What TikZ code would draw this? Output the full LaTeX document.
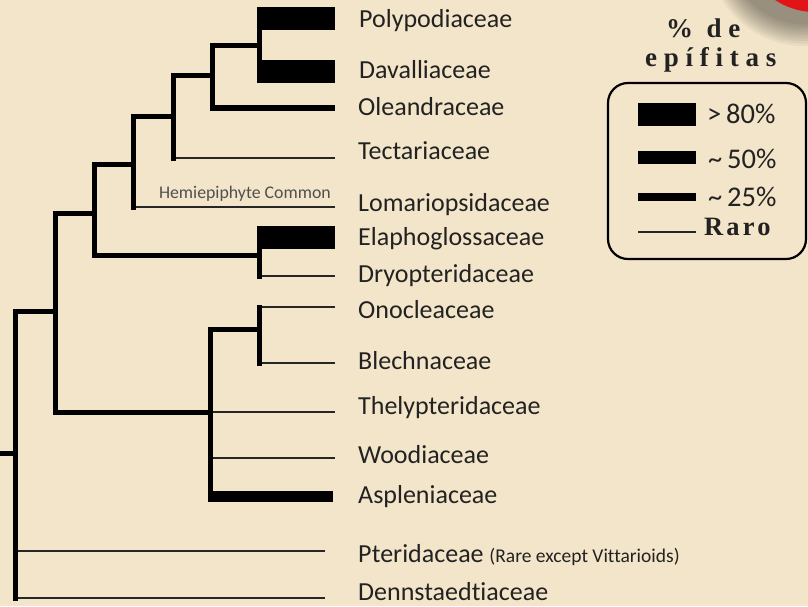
\documentclass[tikz,border=0pt]{standalone}
\usepackage{fontspec}
\setmainfont{Carlito}[Ligatures=NoCommon]
\newfontfamily\legtitle[LetterSpace=25]{Liberation Serif}
\newfontfamily\legraro[LetterSpace=12]{Liberation Serif}
\definecolor{bg}{RGB}{243,229,201}
\definecolor{txt}{RGB}{34,34,34}
\definecolor{hemi}{RGB}{80,80,80}
\definecolor{blob}{RGB}{226,20,24}
\begin{document}
\begin{tikzpicture}[x=1pt,y=-1pt,
  br/.style={line width=5pt,line cap=rect,draw=black},
  rare/.style={line width=2pt,draw=black!85},
  qa/.style={line width=6.5pt,draw=black},
  qb/.style={line width=11pt,draw=black},
  qc/.style={line width=23pt,draw=black},
  lab/.style={anchor=base west,inner sep=0pt,text=txt,font=\fontsize{26}{30}\selectfont},
  leg/.style={anchor=base west,inner sep=0pt,text=txt,font=\fontsize{28.5}{32}\selectfont},
]
\fill[bg] (0,0) rectangle (808,606);
\useasboundingbox (0,0) rectangle (808,606);

% red blob with shadow (top right corner)
\begin{scope}
\clip (0,0) rectangle (808,606);
\foreach \k in {1,...,10}{
  \fill[black,opacity=0.045] (804,-50) circle ({72+2.4*\k});
}
\fill[blob] (815,-60) circle (72);
\end{scope}

% internal nodes of the tree
\coordinate (s0) at (0,453);
\coordinate (Rm) at (15,453); \coordinate (Rt) at (15,311); \coordinate (Rb) at (15,598); \coordinate (Rp) at (15,551);
\coordinate (Am) at (55,311); \coordinate (At) at (55,213); \coordinate (Ab) at (55,412);
\coordinate (Bm) at (94,213); \coordinate (Bt) at (94,164); \coordinate (Bb) at (94,255);
\coordinate (Cm) at (133,164); \coordinate (Ct) at (133,116); \coordinate (Cb) at (133,207);
\coordinate (Dm) at (173,116); \coordinate (Dt) at (173,75); \coordinate (Db) at (173,158);
\coordinate (Em) at (212,75); \coordinate (Et) at (212,45); \coordinate (Eb) at (212,108);
\coordinate (Fm) at (259,45); \coordinate (Ft) at (259,18.5); \coordinate (Fb) at (259,71.5);
\coordinate (Gm) at (259,255); \coordinate (Gt) at (259,237); \coordinate (Gb) at (259,276);
\coordinate (Hm) at (210,412); \coordinate (Ht) at (210,329); \coordinate (Hw) at (210,458); \coordinate (Hb) at (210,496.5);
\coordinate (Im) at (259,329); \coordinate (It) at (259,307); \coordinate (Ib) at (259,363);

% leaf ends
\coordinate (poly) at (335,18.5);
\coordinate (daval) at (335,71.5);
\coordinate (olea) at (335,108);
\coordinate (tect) at (335,158);
\coordinate (loma) at (335,207);
\coordinate (elap) at (335,237);
\coordinate (dryo) at (335,276);
\coordinate (onoc) at (335,307);
\coordinate (blec) at (335,363);
\coordinate (thel) at (335,412);
\coordinate (wood) at (335,458);
\coordinate (aspl) at (333,496.5);
\coordinate (pter) at (325,551);
\coordinate (denn) at (325,598);

% rare (thin) terminal branches
\draw[rare] (Db) -- (tect);
\draw[rare] (Cb) -- (loma);
\draw[rare] (Gb) -- (dryo);
\draw[rare] (It) -- (onoc);
\draw[rare] (Ib) -- (blec);
\draw[rare] (Hm) -- (thel);
\draw[rare] (Hw) -- (wood);
\draw[rare] (Rp) -- (pter);
\draw[rare] (Rb) -- (denn);

% ~25% and ~50% terminal branches
\draw[qa] (Eb) -- (olea);
\draw[qb] ([xshift=-2.5pt]Hb) -- (aspl);

% >80% terminal branches
\draw[qc] ([xshift=-2pt]Ft) -- (poly);
\draw[qc] ([xshift=-2pt]Fb) -- (daval);
\draw[qc] ([xshift=-2pt]Gt) -- (elap);

% backbone horizontals
\draw[br] (s0) -- (Rm);
\draw[br] (Rt) -- (Am);
\draw[br] (At) -- (Bm);
\draw[br] (Bt) -- (Cm);
\draw[br] (Ct) -- (Dm);
\draw[br] (Dt) -- (Em);
\draw[br] (Et) -- (Fm);
\draw[br] (Bb) -- (Gm);
\draw[br] (Ab) -- (Hm);
\draw[br] (Ht) -- (Im);

% backbone verticals
\draw[br] (Rt) -- (Rb);
\draw[br] (At) -- (Ab);
\draw[br] (Bt) -- (Bb);
\draw[br] (Ct) -- (Cb);
\draw[br] (Dt) -- (Db);
\draw[br] (Et) -- (Eb);
\draw[br] (Ft) -- (Fb);
\draw[br] (Gt) -- (Gb);
\draw[br] (Ht) -- (Hb);
\draw[br] (It) -- (Ib);

% labels
\node[lab] (Lpoly) at (359,27) {Polypodiaceae};
\node[lab] (Ldaval) at (359,78) {Davalliaceae};
\node[lab] (Lolea) at (358,115) {Oleandraceae};
\node[lab] (Ltect) at (358,159) {Tectariaceae};
\node[lab] (Lloma) at (358,211) {Lomariopsidaceae};
\node[lab] (Lelap) at (358,245) {Elaphoglossaceae};
\node[lab] (Ldryo) at (358,282) {Dryopteridaceae};
\node[lab] (Lonoc) at (358,318) {Onocleaceae};
\node[lab] (Lblec) at (358,369) {Blechnaceae};
\node[lab] (Lthel) at (358,414) {Thelypteridaceae};
\node[lab] (Lwood) at (358,463) {Woodiaceae};
\node[lab] (Laspl) at (358,503) {Aspleniaceae};
\node[lab] (Lpter) at (358,562) {Pteridaceae {\fontsize{19.5}{22}\selectfont(Rare except Vittarioids)}};
\node[lab] (Ldenn) at (358,600) {Dennstaedtiaceae};
\node[anchor=base east,inner sep=0pt,text=hemi,font=\fontsize{17.8}{20}\selectfont] (Lhemi) at (331,198) {Hemiepiphyte Common};

% legend
\node[anchor=base west,inner sep=0pt,text=txt,font=\legtitle\bfseries\fontsize{27}{30}\selectfont] (T1) at (666,37) {\% de};
\node[anchor=base west,inner sep=0pt,text=txt,font=\legtitle\bfseries\fontsize{27}{30}\selectfont] (T2) at (645,66) {epífitas};
\draw[line width=2.2pt,rounded corners=20pt] (608,83) rectangle (806,259);
\fill[black] (638,103) rectangle (696,126);
\fill[black] (638,151) rectangle (696,164);
\fill[black] (638,193) rectangle (696,201);
\draw[rare] (638,232) -- (696,232);
\node[leg] (K1) at (707,123) {>\,80\%};
\node[leg] (K2) at (708,168) {\textasciitilde\,50\%};
\node[leg] (K3) at (708,206.5) {\textasciitilde\,25\%};
\node[anchor=base west,inner sep=0pt,text=txt,font=\legraro\bfseries\fontsize{26.5}{30}\selectfont] (K4) at (704,235) {Raro};
\end{tikzpicture}
\end{document}
